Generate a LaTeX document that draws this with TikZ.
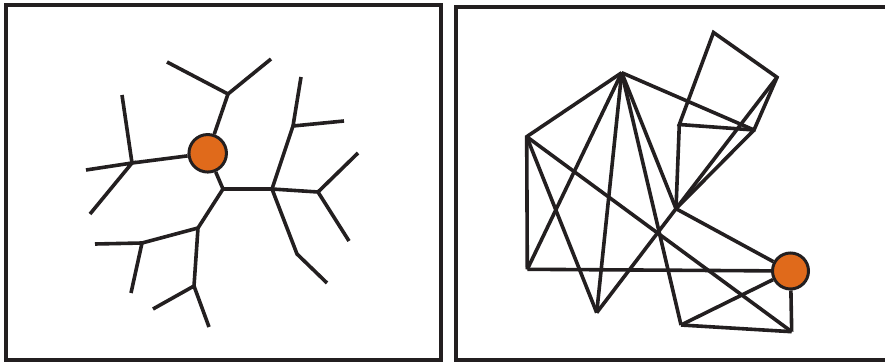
\documentclass[tikz,border=0pt]{standalone}
\usetikzlibrary{calc}

\definecolor{nodeorange}{RGB}{224,106,27}
\definecolor{inkblack}{RGB}{35,31,32}

\begin{document}
\begin{tikzpicture}[x=1pt, y=-1pt,
    edge/.style={draw=inkblack, line width=3.6pt},
    frame/.style={draw=inkblack, line width=3.4pt},
    hub/.style={circle, draw=inkblack, line width=3pt, fill=nodeorange, inner sep=0pt}]

    \useasboundingbox (0,0) rectangle (885,363);
    \clip (0,0) rectangle (885,363);

    % ==========================================
    % PANEL 1: Tree
    % ==========================================
    \begin{scope}
        % Panel border
        \draw[frame] (6,5) rectangle (441,360);

        % Branch points and leaves
        \coordinate (A)  at (228,94);
        \coordinate (A1) at (167,62);
        \coordinate (A2) at (271,59);
        \coordinate (B)  at (132,163);
        \coordinate (B1) at (122,95);
        \coordinate (B2) at (86,170);
        \coordinate (B3) at (90,214);
        \coordinate (C)  at (223,189);
        \coordinate (D)  at (272,189);
        \coordinate (E)  at (293,126);
        \coordinate (E1) at (301,77);
        \coordinate (E2) at (344,121);
        \coordinate (F)  at (318,192);
        \coordinate (F1) at (358,153);
        \coordinate (F2) at (349,241);
        \coordinate (G)  at (297,254);
        \coordinate (G1) at (327,283);
        \coordinate (H)  at (198,228);
        \coordinate (I)  at (142,243);
        \coordinate (I1) at (95,244);
        \coordinate (I2) at (131,293);
        \coordinate (J)  at (194,286);
        \coordinate (J1) at (153,309);
        \coordinate (J2) at (209,327);

        % Root node
        \node[hub, minimum size=37.5pt] (root) at (207.7,153.3) {};

        % Branches
        \draw[edge] (root) -- (A);
        \draw[edge] (A1) -- (A) -- (A2);
        \draw[edge] (root) -- (B);
        \draw[edge] (B1) -- (B);
        \draw[edge] (B2) -- (B) -- (B3);
        \draw[edge] (root) -- (C) -- (D);
        \draw[edge] (D) -- (E);
        \draw[edge] (E1) -- (E) -- (E2);
        \draw[edge] (D) -- (F);
        \draw[edge] (F1) -- (F) -- (F2);
        \draw[edge] (D) -- (G) -- (G1);
        \draw[edge] (C) -- (H);
        \draw[edge] (H) -- (I);
        \draw[edge] (I1) -- (I) -- (I2);
        \draw[edge] (H) -- (J);
        \draw[edge] (J1) -- (J) -- (J2);
    \end{scope}

    % ==========================================
    % PANEL 2: Mesh graph
    % ==========================================
    \begin{scope}
        % Panel border (open to the right)
        \draw[frame] (456,7) rectangle (900,360);

        % Vertices
        \coordinate (P1)  at (621.7,72.7);
        \coordinate (P2)  at (526.7,136.7);
        \coordinate (P3)  at (527.3,269.3);
        \coordinate (P4)  at (596.7,312.7);
        \coordinate (P5)  at (681,325);
        \coordinate (P6)  at (791.7,331.7);
        \coordinate (P7)  at (676,208.7);
        \coordinate (P8)  at (679.3,124.5);
        \coordinate (P9)  at (754,130);
        \coordinate (P10) at (777,77.3);
        \coordinate (P11) at (713.5,32.5);

        \node[hub, minimum size=36pt] (sink) at (790.5,271) {};

        % Edges
        \draw[edge] (P3) -- (P2) -- (P1);
        \draw[edge] (P3) -- (sink);
        \draw[edge] (P2) -- (P6);
        \draw[edge] (P2) -- (P4);
        \draw[edge] (P1) -- (P3);
        \draw[edge] (P1) -- (P4);
        \draw[edge] (P1) -- (P5);
        \draw[edge] (P1) -- (P7);
        \draw[edge] (P1) -- (P9);
        \draw[edge] (P4) -- (P7);
        \draw[edge] (P7) -- (P9);
        \draw[edge] (P7) -- (P10);
        \draw[edge] (P7) -- (P8);
        \draw[edge] (P8) -- (P9) -- (P10) -- (P11) -- cycle;
        \draw[edge] (P7) -- (sink);
        \draw[edge] (sink) -- (P5);
        \draw[edge] (P5) -- (P6);
        \draw[edge] (sink) -- (P6);
    \end{scope}

\end{tikzpicture}
\end{document}
